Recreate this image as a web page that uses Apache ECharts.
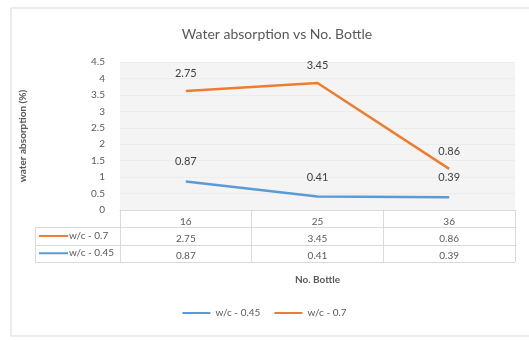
<!DOCTYPE html>
<html><head><meta charset="utf-8">
<script src="https://cdn.jsdelivr.net/npm/echarts@6/dist/echarts.min.js"></script>
<style>html,body{margin:0;padding:0;background:#fff}#c{width:529px;height:340px}</style>
</head><body><div id="c"></div>
<script>
const categories = ['16', '25', '36'];
const wc045 = [0.87, 0.41, 0.39];
const wc07 = [2.75, 3.45, 0.86];
const seriesNames = ['w/c - 0.45', 'w/c - 0.7'];
const yTicks = [0, 0.5, 1, 1.5, 2, 2.5, 3, 3.5, 4, 4.5];

const chart = echarts.init(document.getElementById('c'));
const FONT = 'Lato, "Liberation Sans", sans-serif';
const BLUE = '#5B9BD5', ORANGE = '#ED7D31';
const G = {left: 120, right: 14, top: 62, bottom: 130};

const option = {
  animation: false,
  textStyle: {fontFamily: FONT},
  title: {text: 'Water absorption vs No. Bottle', left: 272, top: 22, textAlign: 'center',
    textStyle: {fontSize: 14, fontWeight: 'normal', color: '#595959', fontFamily: FONT}},
  legend: {bottom: 17, left: 'center', itemWidth: 28, itemHeight: 2, itemGap: 14,
    icon: 'rect', data: seriesNames,
    textStyle: {fontSize: 10, color: '#595959', fontFamily: FONT}},
  grid: {left: G.left, right: G.right, top: G.top, bottom: G.bottom, show: true,
    backgroundColor: '#f4f4f4', borderWidth: 0},
  xAxis: {type: 'category', data: categories, boundaryGap: true,
    name: 'No. Bottle', nameLocation: 'middle', nameGap: 65,
    nameTextStyle: {fontSize: 10, fontWeight: 'bold', color: '#595959', fontFamily: FONT},
    axisLine: {lineStyle: {color: '#d9d9d9'}},
    axisTick: {show: true, length: 52, inside: false, lineStyle: {color: '#d9d9d9'}},
    axisLabel: {margin: 3, lineHeight: 17, fontSize: 10, color: '#595959', fontFamily: FONT,
      formatter: (v, i) => v + '\n' + wc07[i] + '\n' + wc045[i]}},
  yAxis: {type: 'value', min: 0, max: 4.5, interval: 0.5,
    name: 'water absorption (%)', nameLocation: 'middle', nameGap: 92, nameRotate: 90,
    nameTextStyle: {fontSize: 10, fontWeight: 'bold', color: '#595959', fontFamily: FONT},
    axisLine: {show: false}, axisTick: {show: false},
    splitLine: {show: true, lineStyle: {color: '#ececec'}},
    axisLabel: {margin: 15, fontSize: 10, color: '#595959', fontFamily: FONT,
      formatter: v => String(v)}},
  series: [
    {name: seriesNames[0], type: 'line', stack: 'total', data: wc045, showSymbol: true,
      symbol: 'circle', symbolSize: 0.1, lineStyle: {width: 2.5, color: BLUE}, itemStyle: {color: BLUE},
      label: {show: true, position: 'top', distance: 14, fontSize: 11, color: '#404040', fontFamily: FONT}},
    {name: seriesNames[1], type: 'line', stack: 'total', data: wc07, showSymbol: true,
      symbol: 'circle', symbolSize: 0.1, lineStyle: {width: 2.5, color: ORANGE}, itemStyle: {color: ORANGE},
      label: {show: true, position: 'top', distance: 12, fontSize: 11, color: '#404040', fontFamily: FONT}}
  ]
};
chart.setOption(option);

// table lines and row keys
const bottomY = 340 - G.bottom;
const rightX = 529 - G.right;
const rowH = 17.3;
const g = [];
g.push({type: 'rect', shape: {x: 11, y: 8, width: 540, height: 328}, style: {fill: 'none', stroke: '#d9d9d9', lineWidth: 1}, silent: true});
for (let r = 1; r <= 3; r++) {
  const y = Math.round(bottomY + r * rowH) + 0.5;
  g.push({type: 'line', shape: {x1: 35, y1: y, x2: rightX, y2: y}, style: {stroke: '#d9d9d9', lineWidth: 1}, silent: true});
}
g.push({type: 'line', shape: {x1: 35.5, y1: Math.round(bottomY + rowH), x2: 35.5, y2: Math.round(bottomY + 3 * rowH)}, style: {stroke: '#d9d9d9', lineWidth: 1}, silent: true});
g.push({type: 'line', shape: {x1: G.left + 0.5, y1: bottomY, x2: G.left + 0.5, y2: Math.round(bottomY + 3 * rowH)}, style: {stroke: '#d9d9d9', lineWidth: 1}, silent: true});
const keys = [[seriesNames[1], ORANGE], [seriesNames[0], BLUE]];
keys.forEach((k, i) => {
  const y = bottomY + rowH * (i + 1.5);
  g.push({type: 'line', shape: {x1: 39, y1: y, x2: 68, y2: y}, style: {stroke: k[1], lineWidth: 2}, silent: true});
  g.push({type: 'text', x: 69, y: y, style: {text: k[0], fill: '#595959', font: '10px ' + FONT, textVerticalAlign: 'middle'}, silent: true});
});
chart.setOption({graphic: g});
</script></body></html>
